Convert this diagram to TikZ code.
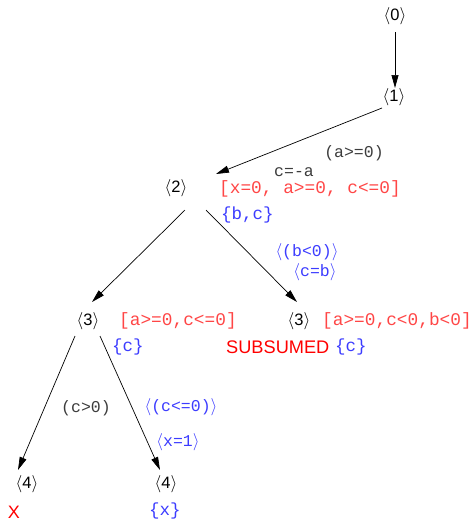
\documentclass[tikz,border=0pt]{standalone}
\usepackage{fontspec}
\setmainfont{Liberation Sans}
\setmonofont{Liberation Mono}
\usetikzlibrary{arrows.meta}
\definecolor{cred}{RGB}{255,70,70}
\definecolor{cblue}{RGB}{60,60,255}
\definecolor{cgray}{RGB}{60,60,60}
\tikzset{
  st/.style={font=\fontsize{16.5}{18}\selectfont, inner sep=0pt},
  cons/.style={font=\fontsize{17.8}{20}\ttfamily, text=cred, inner sep=0pt, anchor=west},
  vars/.style={font=\fontsize{17.5}{20}\ttfamily, text=cblue, inner sep=0pt, anchor=west},
  grd/.style={font=\fontsize{16.5}{20}\ttfamily, text=cgray, inner sep=0pt},
  asg/.style={font=\fontsize{16.5}{20}\ttfamily, text=cblue, inner sep=0pt},
  edge/.style={-{Triangle[length=13pt,width=7pt]}, line width=0.7pt},
}
\begin{document}
\begin{tikzpicture}[x=1pt,y=-1pt]
\useasboundingbox (0,0) rectangle (476,522);
% states
\node[st] (s0) at (395,16) {$\langle$0$\rangle$};
\node[st] (s1) at (394,97) {$\langle$1$\rangle$};
\node[st] (s2) at (176,188) {$\langle$2$\rangle$};
\node[st] (s3l) at (88,321) {$\langle$3$\rangle$};
\node[st] (s3r) at (299,321) {$\langle$3$\rangle$};
\node[st] (s4l) at (27,484) {$\langle$4$\rangle$};
\node[st] (s4r) at (166,484) {$\langle$4$\rangle$};
% anchors for edges
\coordinate (a0) at (395,32);
\coordinate (b0) at (395,88);
\coordinate (a1) at (382,108);
\coordinate (b1) at (216,174);
\coordinate (a2l) at (185,210);
\coordinate (b2l) at (92,302);
\coordinate (a2r) at (206,210);
\coordinate (b2r) at (297,302);
\coordinate (a3l) at (75,336);
\coordinate (b3l) at (18,470);
\coordinate (a3r) at (100,336);
\coordinate (b3r) at (160,470);
\draw[edge] (a0) -- (b0);
\draw[edge] (a1) -- (b1);
\draw[edge] (a2l) -- (b2l);
\draw[edge] (a2r) -- (b2r);
\draw[edge] (a3l) -- (b3l);
\draw[edge] (a3r) -- (b3r);
% labels
\node[grd] (g1) at (354,153) {(a>=0)};
\node[grd] (u1) at (294,172) {c=-a};
\node[cons] (c2) at (219,189) {[x=0, a>=0, c<=0]};
\node[vars] (v2) at (221,215) {\{b,c\}};
\node[asg] (g2) at (307,252) {$\langle$(b<0)$\rangle$};
\node[asg] (u2) at (315,272) {$\langle$c=b$\rangle$};
\node[cons] (c3l) at (119,321) {[a>=0,c<=0]};
\node[vars] (v3l) at (112,347) {\{c\}};
\node[cons] (c3r) at (322,321) {[a>=0,c<0,b<0]};
\node[font=\fontsize{18.2}{20}\selectfont, text=red, inner sep=0pt, anchor=west] (sub) at (226,347) {SUBSUMED};
\node[vars] (v3r) at (335,347) {\{c\}};
\node[grd] (g3) at (86,408) {(c>0)};
\node[asg] (g4) at (181,407) {$\langle$(c<=0)$\rangle$};
\node[asg] (u4) at (178,442) {$\langle$x=1$\rangle$};
\node[vars] (v4) at (149,511) {\{x\}};
\node[font=\fontsize{18}{20}\selectfont, text=red, inner sep=0pt] (x4) at (14,512) {X};
\end{tikzpicture}
\end{document}
